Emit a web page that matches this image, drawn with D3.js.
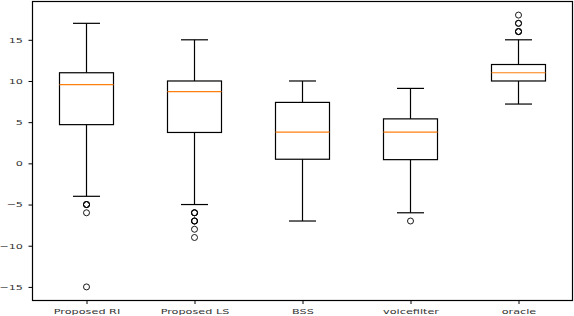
<!DOCTYPE html>
<html>
<head>
<meta charset="utf-8">
<script src="https://cdn.jsdelivr.net/npm/d3@7"></script>
<style>
  body { margin: 0; background: #fff; }
  svg { display: block; }
  .tick text { font-family: "DejaVu Sans", sans-serif; fill: #333; }
</style>
</head>
<body>
<svg id="boxSvg" width="574" height="316"></svg>
<script>
// values
const categories = ['Proposed RI', 'Proposed LS', 'BSS', 'voicefilter', 'oracle'];
const whiskerLow = [-4, -5, -7, -6, 7.2];
const q1 = [4.7, 3.75, 0.5, 0.45, 10];
const median = [9.55, 8.7, 3.8, 3.8, 11];
const q3 = [11, 10, 7.4, 5.4, 12];
const whiskerHigh = [17, 15, 10, 9.1, 15];
const outliers = [
    [-5, -5, -5, -6, -15],
    [-6, -6, -6, -7, -7, -7, -8, -9],
    [],
    [-7],
    [16, 16, 16, 17, 17, 18]
];
const yTicks = [-15, -10, -5, 0, 5, 10, 15];

document.addEventListener('DOMContentLoaded', function () {
    drawBoxPlot();
});

function drawBoxPlot() {
    const svg = d3.select('#boxSvg');
    const left = 32.5, right = 572.5, top = 1.5, bottom = 300.5;

    const xScale = d3.scaleLinear().domain([0.5, 5.5]).range([left, right]);
    const yScale = d3.scaleLinear().domain([-16.65, 19.65]).range([bottom, top]);

    const data = categories.map((c, i) => ({
        name: c, pos: i + 1,
        lo: whiskerLow[i], q1: q1[i], med: median[i], q3: q3[i], hi: whiskerHigh[i],
        out: outliers[i]
    }));

    const boxW = xScale(1.25) - xScale(1);   // half width 0.25
    const capW = xScale(1.125) - xScale(1);  // half cap 0.125

    const g = svg.append('g');

    const box = g.selectAll('g.box')
        .data(data)
        .enter()
        .append('g')
        .attr('class', 'box');

    // whiskers
    box.append('line')
        .attr('x1', d => xScale(d.pos)).attr('x2', d => xScale(d.pos))
        .attr('y1', d => yScale(d.hi)).attr('y2', d => yScale(d.q3))
        .attr('stroke', '#000').attr('stroke-width', 1.2);
    box.append('line')
        .attr('x1', d => xScale(d.pos)).attr('x2', d => xScale(d.pos))
        .attr('y1', d => yScale(d.q1)).attr('y2', d => yScale(d.lo))
        .attr('stroke', '#000').attr('stroke-width', 1.2);
    // caps
    box.append('line')
        .attr('x1', d => xScale(d.pos) - capW).attr('x2', d => xScale(d.pos) + capW)
        .attr('y1', d => yScale(d.hi)).attr('y2', d => yScale(d.hi))
        .attr('stroke', '#000').attr('stroke-width', 1.2);
    box.append('line')
        .attr('x1', d => xScale(d.pos) - capW).attr('x2', d => xScale(d.pos) + capW)
        .attr('y1', d => yScale(d.lo)).attr('y2', d => yScale(d.lo))
        .attr('stroke', '#000').attr('stroke-width', 1.2);
    // box
    box.append('rect')
        .attr('x', d => xScale(d.pos) - boxW)
        .attr('y', d => yScale(d.q3))
        .attr('width', 2 * boxW)
        .attr('height', d => yScale(d.q1) - yScale(d.q3))
        .attr('fill', 'none').attr('stroke', '#000').attr('stroke-width', 1.2);
    // median
    box.append('line')
        .attr('x1', d => xScale(d.pos) - boxW).attr('x2', d => xScale(d.pos) + boxW)
        .attr('y1', d => yScale(d.med)).attr('y2', d => yScale(d.med))
        .attr('stroke', '#ff7f0e').attr('stroke-width', 1.2);
    // fliers
    box.selectAll('circle')
        .data(d => d.out.map(v => ({ pos: d.pos, v: v })))
        .enter()
        .append('circle')
        .attr('cx', d => xScale(d.pos))
        .attr('cy', d => yScale(d.v))
        .attr('r', 3)
        .attr('fill', 'none').attr('stroke', '#000').attr('stroke-width', 0.9);

    // axes
    const yAxis = d3.axisLeft(yScale)
        .tickValues(yTicks)
        .tickSize(4)
        .tickPadding(4)
        .tickFormat(d => d < 0 ? '\u2212' + Math.abs(d) : d);
    const ya = g.append('g').attr('transform', `translate(${left},0)`).call(yAxis);
    ya.select('.domain').remove();
    ya.selectAll('text')
        .style('font-size', '7.5px')
        .attr('x', 0)
        .attr('transform', 'translate(-9.5,0) scale(1.5,1)');

    const xAxis = d3.axisBottom(xScale)
        .tickValues([1, 2, 3, 4, 5])
        .tickSize(3.5)
        .tickPadding(4.5)
        .tickFormat((d, i) => categories[i]);
    const xa = g.append('g').attr('transform', `translate(0,${bottom})`).call(xAxis);
    xa.select('.domain').remove();
    xa.selectAll('text')
        .style('font-size', '7.5px')
        .attr('transform', 'scale(1.5,1)');

    // frame
    g.append('rect')
        .attr('x', left).attr('y', top)
        .attr('width', right - left).attr('height', bottom - top)
        .attr('fill', 'none').attr('stroke', '#000').attr('stroke-width', 1.2);
}
</script>
</body>
</html>
